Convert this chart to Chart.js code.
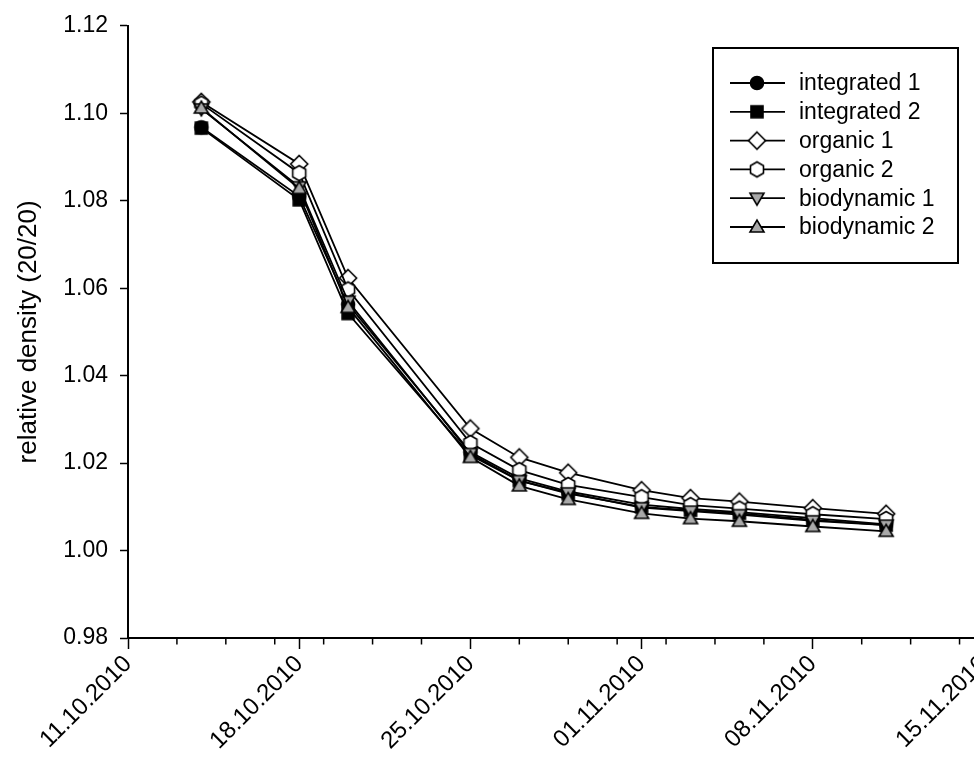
<!DOCTYPE html>
<html>
<head>
<meta charset="utf-8">
<script src="https://cdn.jsdelivr.net/npm/chart.js@4.4.1/dist/chart.umd.min.js"></script>
<style>
  html, body { margin: 0; padding: 0; background: #fff; overflow: hidden; }
  #wrap { width: 1000px; height: 760px; }
</style>
</head>
<body>
<div id="wrap"><canvas id="densityChart" width="1000" height="760"></canvas></div>
<script>
const sampleDates = ['14.10.2010', '18.10.2010', '20.10.2010', '25.10.2010', '27.10.2010', '29.10.2010',
  '01.11.2010', '03.11.2010', '05.11.2010', '08.11.2010', '11.11.2010'];
const xTickLabels = ['11.10.2010', '18.10.2010', '25.10.2010', '01.11.2010', '08.11.2010', '15.11.2010'];
const yTickValues = [0.98, 1.00, 1.02, 1.04, 1.06, 1.08, 1.10, 1.12];

const seriesNames = ['integrated 1', 'integrated 2', 'organic 1', 'organic 2', 'biodynamic 1', 'biodynamic 2'];
const integrated1 = [1.0968, 1.0810, 1.0563, 1.0225, 1.0165, 1.0135, 1.0105, 1.0095, 1.0088, 1.0074, 1.0060];
const integrated2 = [1.0966, 1.0802, 1.0542, 1.0218, 1.0160, 1.0130, 1.0100, 1.0092, 1.0085, 1.0070, 1.0058];
const organic1    = [1.1026, 1.0884, 1.0623, 1.0279, 1.0213, 1.0178, 1.0138, 1.0120, 1.0112, 1.0097, 1.0084];
const organic2    = [1.1022, 1.0863, 1.0597, 1.0246, 1.0184, 1.0150, 1.0122, 1.0104, 1.0096, 1.0083, 1.0072];
const biodynamic1 = [1.1010, 1.0832, 1.0570, 1.0222, 1.0160, 1.0132, 1.0098, 1.0090, 1.0082, 1.0068, 1.0058];
const biodynamic2 = [1.1012, 1.0828, 1.0556, 1.0213, 1.0148, 1.0117, 1.0085, 1.0073, 1.0067, 1.0055, 1.0044];

const FONT = "'Liberation Sans', Arial, sans-serif";
const GREY = '#a9a9a9';

// days since the first tick label
function dayOffset(str) {
  const [d, m, y] = str.split('.').map(Number);
  const [d0, m0, y0] = xTickLabels[0].split('.').map(Number);
  return Math.round((Date.UTC(y, m - 1, d) - Date.UTC(y0, m0 - 1, d0)) / 86400000);
}

// small canvases used as point styles
function makeMarker(shape, fill) {
  const c = document.createElement('canvas');
  c.width = 22; c.height = 22;
  const g = c.getContext('2d');
  const cx = 11, cy = 11;
  g.beginPath();
  if (shape === 'circle') {
    g.arc(cx, cy, 6.5, 0, Math.PI * 2);
  } else if (shape === 'square') {
    g.rect(cx - 6, cy - 6, 12, 12);
  } else if (shape === 'diamond') {
    g.moveTo(cx, cy - 8.5); g.lineTo(cx + 8.5, cy); g.lineTo(cx, cy + 8.5); g.lineTo(cx - 8.5, cy);
  } else if (shape === 'hexagon') {
    for (let k = 0; k < 6; k++) {
      const a = -Math.PI / 2 + k * Math.PI / 3;
      const px = cx + 7.5 * Math.cos(a), py = cy + 7.5 * Math.sin(a);
      if (k === 0) g.moveTo(px, py); else g.lineTo(px, py);
    }
  } else if (shape === 'triDown') {
    g.moveTo(cx - 7, cy - 5); g.lineTo(cx + 7, cy - 5); g.lineTo(cx, cy + 7);
  } else if (shape === 'triUp') {
    g.moveTo(cx - 7, cy + 5); g.lineTo(cx + 7, cy + 5); g.lineTo(cx, cy - 7);
  }
  g.closePath();
  g.fillStyle = fill;
  g.fill();
  g.lineWidth = 1.6;
  g.strokeStyle = '#000';
  g.stroke();
  return c;
}

const markers = [
  makeMarker('circle', '#000'),
  makeMarker('square', '#000'),
  makeMarker('diamond', '#fff'),
  makeMarker('hexagon', '#fff'),
  makeMarker('triDown', GREY),
  makeMarker('triUp', GREY)
];
const seriesValues = [integrated1, integrated2, organic1, organic2, biodynamic1, biodynamic2];

const datasets = seriesNames.map((name, i) => ({
  label: name,
  data: sampleDates.map((d, j) => ({ x: dayOffset(d), y: seriesValues[i][j] })),
  borderColor: '#000',
  borderWidth: 1.8,
  pointStyle: markers[i],
  pointRadius: 7,
  fill: false,
  tension: 0,
  order: seriesNames.length - i
}));

// minor ticks every second day
const minorTicks = {
  id: 'minorTicks',
  afterDraw(chart) {
    const xs = chart.scales.x;
    const ctx = chart.ctx;
    const y0 = chart.chartArea.bottom;
    ctx.save();
    ctx.strokeStyle = '#000';
    ctx.lineWidth = 1.5;
    for (let d = xs.min; d <= xs.max; d += 2) {
      if (d % 7 === 0) continue;
      const px = xs.getPixelForValue(d);
      ctx.beginPath();
      ctx.moveTo(px, y0);
      ctx.lineTo(px, y0 + 6.5);
      ctx.stroke();
    }
    ctx.restore();
  }
};

// boxed legend inside the plot, with line through the marker
const boxLegend = {
  id: 'boxLegend',
  afterDraw(chart) {
    const ctx = chart.ctx;
    ctx.save();
    ctx.strokeStyle = '#000';
    ctx.lineWidth = 2;
    ctx.strokeRect(713, 48, 245, 215);
    chart.data.datasets.forEach((ds, i) => {
      const y = 83 + i * 28.8;
      ctx.lineWidth = 1.8;
      ctx.beginPath();
      ctx.moveTo(730, y);
      ctx.lineTo(785, y);
      ctx.stroke();
      const m = ds.pointStyle;
      ctx.drawImage(m, 757 - m.width / 2, y - m.height / 2);
      ctx.fillStyle = '#000';
      ctx.font = '23px ' + FONT;
      ctx.textBaseline = 'middle';
      ctx.textAlign = 'left';
      ctx.fillText(ds.label, 799, y + 1);
    });
    ctx.restore();
  }
};

new Chart(document.getElementById('densityChart'), {
  type: 'line',
  data: { datasets: datasets },
  options: {
    responsive: false,
    animation: false,
    events: [],
    layout: { padding: { top: 23, right: 16, left: 0, bottom: 0 } },
    plugins: {
      legend: { display: false },
      tooltip: { enabled: false }
    },
    scales: {
      x: {
        type: 'linear',
        min: dayOffset(xTickLabels[0]),
        max: dayOffset(xTickLabels[xTickLabels.length - 1]),
        afterBuildTicks: scale => {
          scale.ticks = xTickLabels.map(l => ({ value: dayOffset(l) }));
        },
        afterFit: scale => {
          scale.height = 122;
          scale.paddingLeft = 0;
          scale.paddingRight = 0;
        },
        ticks: {
          autoSkip: false,
          maxRotation: 45,
          minRotation: 45,
          padding: 1,
          color: '#000',
          font: { family: FONT, size: 24 },
          callback: value => xTickLabels.find(l => dayOffset(l) === value) || ''
        },
        grid: { drawOnChartArea: false, drawTicks: true, tickLength: 11, tickColor: '#000', tickWidth: 1.5 },
        border: { display: true, color: '#000', width: 2 }
      },
      y: {
        min: yTickValues[0],
        max: yTickValues[yTickValues.length - 1],
        afterBuildTicks: scale => {
          scale.ticks = yTickValues.map(v => ({ value: v }));
        },
        afterFit: scale => {
          scale.width = 128;
        },
        ticks: {
          padding: 12,
          color: '#000',
          font: { family: FONT, size: 23 },
          callback: value => value.toFixed(2)
        },
        grid: { drawOnChartArea: false, drawTicks: true, tickLength: 8, tickColor: '#000', tickWidth: 1.5 },
        border: { display: true, color: '#000', width: 2 },
        title: {
          display: true,
          text: 'relative density (20/20)',
          color: '#000',
          font: { family: FONT, size: 26 },
          padding: { top: 13, bottom: 0 }
        }
      }
    }
  },
  plugins: [minorTicks, boxLegend]
});
</script>
</body>
</html>
